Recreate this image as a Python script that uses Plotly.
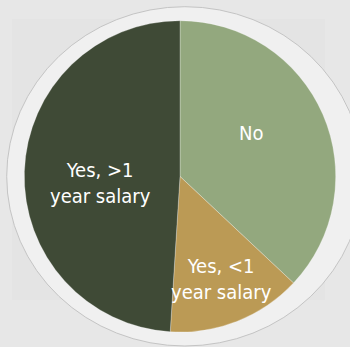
import plotly.graph_objects as go

# Survey answers, clockwise from 12 o'clock
categories = ["No", "Yes, <1 year salary", "Yes, >1 year salary"]
shares = [37, 14, 49]
label_lines = [["No"], ["Yes, <1", "year salary"], ["Yes, >1", "year salary"]]
slice_colors = ["#93a87e", "#bb9a55", "#3f4a36"]

W, H = 350, 347
# pie geometry in pixels (from top-left)
cx, cy, r = 180.0, 176.4, 155.7

def px(x):
    return x / W

def py(y):
    return 1 - y / H

fig = go.Figure(
    go.Pie(
        labels=categories,
        values=shares,
        sort=False,
        direction="clockwise",
        rotation=0,
        textinfo="none",
        hoverinfo="label+percent",
        marker=dict(colors=slice_colors,
                    line=dict(color="rgba(255,255,255,0.45)", width=0.6)),
        domain=dict(x=[px(cx - r), px(cx + r)], y=[py(cy + r), py(cy - r)]),
        showlegend=False,
    )
)

# label anchor points (pixels from top-left)
label_pos = [(251, 133), (221, 278.5), (100.5, 183)]
for lines, (lx, ly) in zip(label_lines, label_pos):
    fig.add_annotation(
        x=px(lx), y=py(ly), xref="paper", yref="paper",
        text="<br>".join(lines), showarrow=False,
        xanchor="center", yanchor="middle", align="center",
        font=dict(family="DejaVu Sans Condensed, Liberation Sans, sans-serif",
                  size=20, color="#ffffff"),
    )

fig.update_layout(
    width=W, height=H,
    margin=dict(l=0, r=0, t=0, b=0),
    paper_bgcolor="#e7e7e7",
    plot_bgcolor="#e7e7e7",
    shapes=[
        # faint inner panel
        dict(type="rect", xref="paper", yref="paper", layer="below",
             x0=px(12), x1=px(325), y0=py(300), y1=py(19),
             fillcolor="#e4e4e4", line=dict(width=0)),
        # light ring around the pie
        dict(type="circle", xref="paper", yref="paper", layer="below",
             x0=px(6.7), x1=px(363), y0=py(346), y1=py(6.7),
             fillcolor="#f0f0f0", line=dict(color="#c4c4c4", width=1)),
    ],
)

fig.write_html("out.html")
